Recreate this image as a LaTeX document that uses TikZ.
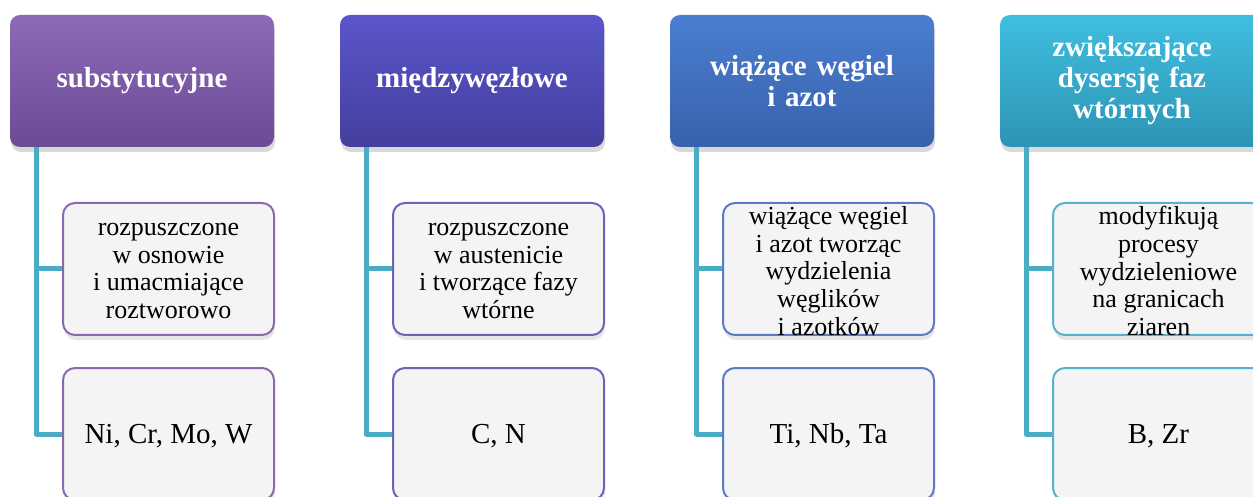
\documentclass[tikz,border=0pt]{standalone}
\usepackage{fontspec}
\setmainfont{Liberation Serif}
\usetikzlibrary{shadows}

\definecolor{c1top}{HTML}{8C6AB6}
\definecolor{c1bot}{HTML}{6C4B95}
\definecolor{c1line}{HTML}{8A6AAE}
\definecolor{c2top}{HTML}{5A56CA}
\definecolor{c2bot}{HTML}{443F9E}
\definecolor{c2line}{HTML}{6C62B8}
\definecolor{c3top}{HTML}{4A7ED0}
\definecolor{c3bot}{HTML}{3961AC}
\definecolor{c3line}{HTML}{5B7BC6}
\definecolor{c4top}{HTML}{40BEE0}
\definecolor{c4bot}{HTML}{2D94B4}
\definecolor{c4line}{HTML}{56B0D0}
\definecolor{itemfill}{HTML}{F4F4F4}
\definecolor{linkcol}{HTML}{4BACC6}

\newcommand{\cell}[1]{\parbox[c][66pt][c]{102pt}{\centering\vspace*{2pt}#1}}

\begin{document}
\begin{tikzpicture}[x=0.5pt, y=-0.5pt,
    head/.style = {top color=#1top, bottom color=#1bot, rounded corners=5pt,
        minimum width=132pt, minimum height=66pt, text width=124pt, align=center,
        text=white, font=\fontsize{14.5}{15.5}\selectfont\bfseries,
        drop shadow={shadow xshift=0.5pt, shadow yshift=-2.5pt, opacity=0.3}},
    item/.style = {draw=#1line, fill=itemfill, line width=1pt, rounded corners=6pt,
        minimum width=105.5pt, minimum height=66pt, inner sep=0pt,
        drop shadow={shadow xshift=0.5pt, shadow yshift=-2.5pt, opacity=0.2}},
    small/.style = {font=\fontsize{13}{13.8}\selectfont},
    big/.style = {font=\fontsize{14.5}{16}\selectfont},
    link/.style = {draw=linkcol, line width=2.5pt, line join=round}]
    \useasboundingbox (0,0) rectangle (1253,497);

    % headers
    \node [head=c1] (h1) at (142,81) {substytucyjne};
    \node [head=c2] (h2) at (472,81) {międzywęzłowe};
    \node [head=c3] (h3) at (802,81) {wiążące węgiel\\ i azot};
    \node [head=c4] (h4) at (1132,81) {zwiększające\\ dysersję faz\\ wtórnych};

    % descriptions
    \node [item=c1, small] (a1) at (168.5,269) {\cell{rozpuszczone\\ w osnowie\\ i umacmiające\\ roztworowo}};
    \node [item=c2, small] (a2) at (498.5,269) {\cell{rozpuszczone\\ w austenicie\\ i tworzące fazy\\ wtórne}};
    \node [item=c3, small] (a3) at (828.5,269) {\cell{wiążące węgiel\\ i azot tworząc\\ wydzielenia\\ węglików\\ i azotków}};
    \node [item=c4, small] (a4) at (1158.5,269) {\cell{modyfikują\\ procesy\\ wydzieleniowe\\ na granicach\\ ziaren}};

    % elements
    \node [item=c1, big] (b1) at (168.5,434) {\cell{Ni, Cr, Mo, W}};
    \node [item=c2, big] (b2) at (498.5,434) {\cell{C, N}};
    \node [item=c3, big] (b3) at (828.5,434) {\cell{Ti, Nb, Ta}};
    \node [item=c4, big] (b4) at (1158.5,434) {\cell{B, Zr}};

    % connectors
    \foreach \i in {1,...,4} {
        \draw [link] ([xshift=13.5pt]h\i.south west) |- (a\i.west);
        \draw [link] ([xshift=13.5pt]h\i.south west) |- (b\i.west);
    }
\end{tikzpicture}
\end{document}
